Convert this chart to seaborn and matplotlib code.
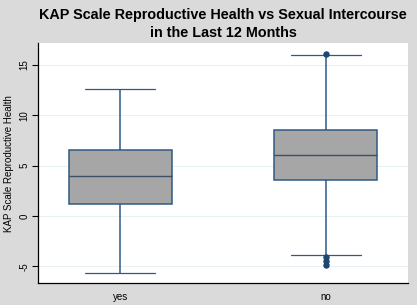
import matplotlib
matplotlib.use("Agg")
import matplotlib.pyplot as plt
import seaborn as sns
import pandas as pd

# values: whisker ends, quartiles, median and outliers
yes_vals = [-5.65, 1.22, 4.0, 6.5, 12.6]
no_vals = [-4.9, -4.5, -4.05, -3.93,
           3.53, 3.53, 3.53, 3.53,
           6.04,
           8.55, 8.55, 8.55, 8.55, 8.55, 8.55,
           16.0, 16.1]
groups = ["yes", "no"]
yticks = [-5, 0, 5, 10, 15]

df = pd.DataFrame({
    "group": ["yes"] * len(yes_vals) + ["no"] * len(no_vals),
    "score": yes_vals + no_vals,
})

sns.set_style("white")
plt.rcParams["font.family"] = ["Liberation Sans", "DejaVu Sans"]
plt.rcParams["text.color"] = "black"
plt.rcParams["axes.labelcolor"] = "black"
plt.rcParams["xtick.color"] = "black"
plt.rcParams["ytick.color"] = "black"

edge = "#2e5a85"
fig = plt.figure(figsize=(4.17, 3.05), dpi=100, facecolor="#dadada")
ax = fig.add_axes([0.091, 0.071, 0.887, 0.787])
ax.set_facecolor("white")

sns.boxplot(data=df, x="group", y="score", order=groups, ax=ax,
            color="#a6a6a6", width=0.5, linewidth=1.1, linecolor=edge,
            fliersize=3.6, capwidths=0.34,
            flierprops=dict(marker="o", markerfacecolor="#1d4670",
                            markeredgecolor="#1d4670"),
            medianprops=dict(color="#3c4f63", linewidth=1.0),
            boxprops=dict(facecolor="#a6a6a6", edgecolor=edge, alpha=1),
            whiskerprops=dict(color=edge, linewidth=1.1),
            capprops=dict(color=edge, linewidth=0.9))

ax.set_xlim(-0.4, 1.4)
ax.set_ylim(-6.7, 17.15)
ax.set_yticks(yticks)
ax.set_yticklabels([str(t) for t in yticks], rotation=90, va="center")
ax.yaxis.grid(True, color="#e8f1f3", linewidth=0.8)
ax.set_axisbelow(True)
ax.tick_params(axis="y", length=4, width=0.8, color="black", labelsize=7, pad=2, left=True)
ax.tick_params(axis="x", length=0, labelsize=7, pad=6)

for side in ["top", "right"]:
    ax.spines[side].set_visible(False)
for side in ["left", "bottom"]:
    ax.spines[side].set_color("black")
    ax.spines[side].set_linewidth(0.9)

ax.set_xlabel("")
ax.set_ylabel("KAP Scale Reproductive Health", fontsize=7, labelpad=4)
fig.suptitle("KAP Scale Reproductive Health vs Sexual Intercourse\nin the Last 12 Months",
             fontsize=10.4, fontweight="bold", y=0.973, linespacing=1.3, x=0.535)

fig.savefig("out.png", dpi=100, facecolor=fig.get_facecolor())
